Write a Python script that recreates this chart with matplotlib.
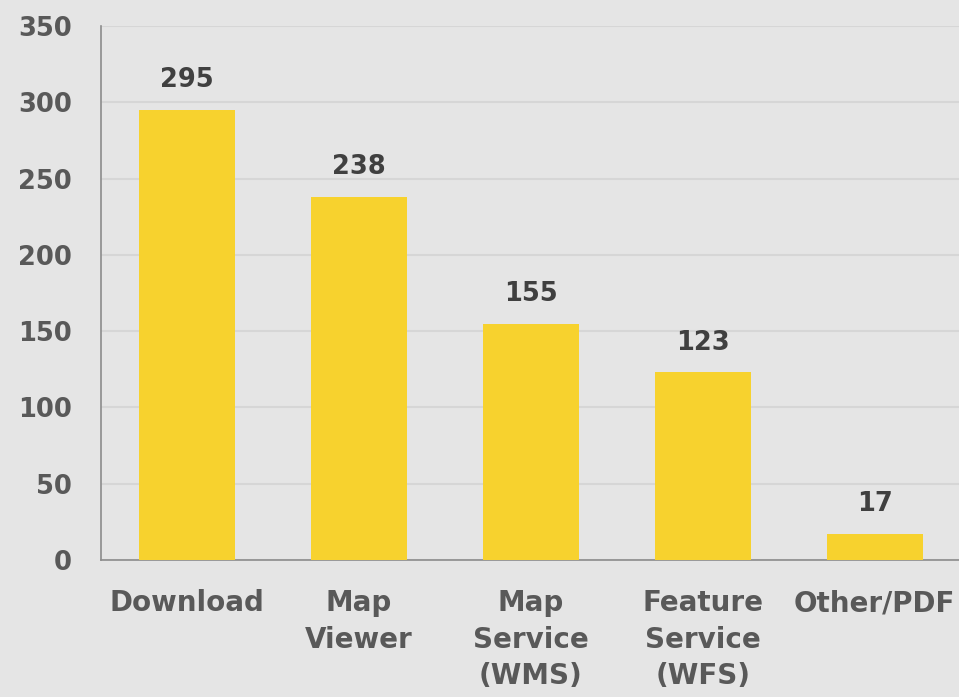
import matplotlib

matplotlib.use("Agg")
import matplotlib.pyplot as plt
import numpy as np

categories = ["Download", "Map\nViewer", "Map\nService\n(WMS)", "Feature\nService\n(WFS)", "Other/PDF"]
counts = [295, 238, 155, 123, 17]
y_ticks = [0, 50, 100, 150, 200, 250, 300, 350]

BG = "#e5e5e5"
BAR = "#f7d22e"
TICK_COLOR = "#595959"
VALUE_COLOR = "#404040"

plt.rcParams["font.family"] = ["DejaVu Sans"]
plt.rcParams["font.weight"] = "bold"

fig = plt.figure(figsize=(9.59, 6.97), dpi=100, facecolor=BG)
ax = fig.add_axes([101 / 959, 1 - 560 / 697, 858 / 959, 534 / 697], facecolor=BG)

x = np.arange(len(categories))
ax.bar(x, counts, width=0.558, color=BAR, zorder=3)

for xi, v in zip(x, counts):
    ax.annotate(str(v), (xi, v), xytext=(0, 12), textcoords="offset points",
                ha="center", va="bottom", fontsize=18.5, fontweight="bold", color=VALUE_COLOR)

ax.set_xlim(-0.5, 4.49)
ax.set_ylim(0, 350)
ax.set_yticks(y_ticks)
ax.set_yticklabels([str(t) for t in y_ticks], fontsize=18.5, fontweight="bold", color=TICK_COLOR)
ax.set_xticks(x)
ax.set_xticklabels(categories, fontsize=20, fontweight="bold", color=TICK_COLOR, linespacing=1.38)
ax.tick_params(axis="both", length=0)
ax.tick_params(axis="x", pad=21)
ax.tick_params(axis="y", pad=21)

ax.grid(axis="y", color="#d6d6d6", linewidth=1.5, zorder=0)
for side in ["top", "right"]:
    ax.spines[side].set_visible(False)
for side in ["left", "bottom"]:
    ax.spines[side].set_color("#8c8c8c")
    ax.spines[side].set_linewidth(1.2)

fig.savefig("out.png", dpi=100, facecolor=BG)
